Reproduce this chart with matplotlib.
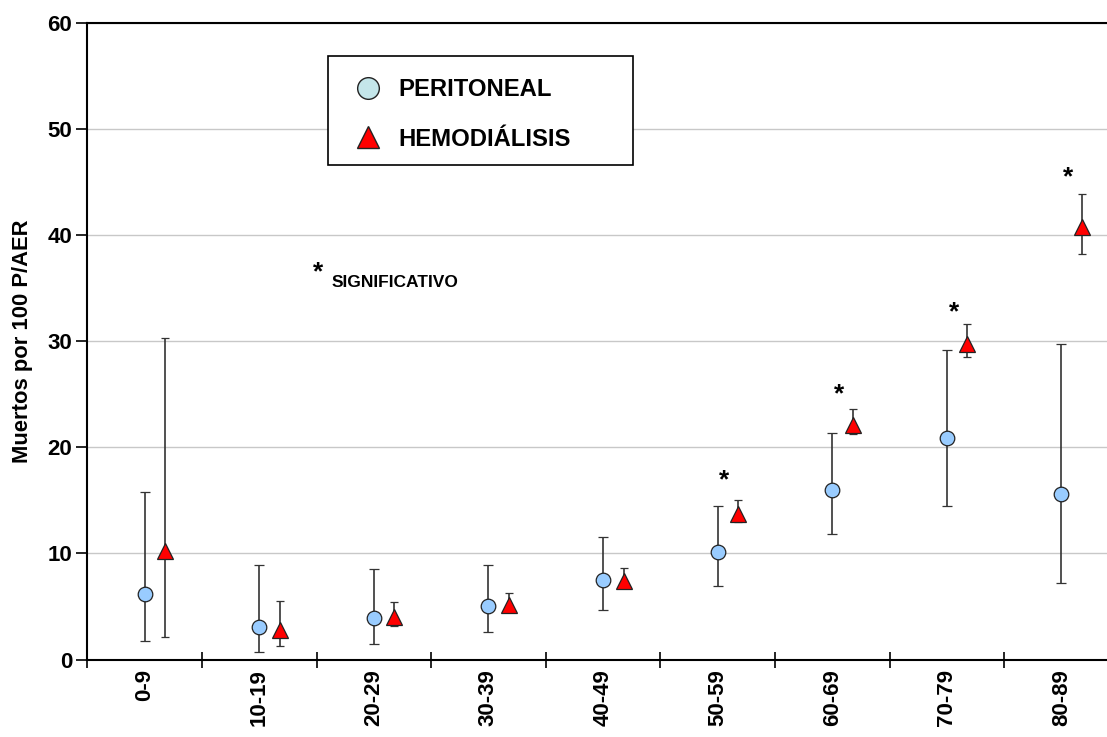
import numpy as np
import matplotlib
matplotlib.use("Agg")
import matplotlib.pyplot as plt
from matplotlib.lines import Line2D
from matplotlib.patches import Rectangle

plt.rcParams['font.family'] = ['Liberation Sans', 'DejaVu Sans']
plt.rcParams['font.weight'] = 'bold'

groups = ['0-9', '10-19', '20-29', '30-39', '40-49', '50-59', '60-69', '70-79', '80-89']

perit = [6.2, 3.1, 3.9, 5.0, 7.5, 10.15, 16.0, 20.9, 15.6]
perit_lo = [1.7, 0.75, 1.45, 2.55, 4.7, 6.9, 11.8, 14.5, 7.25]
perit_hi = [15.8, 8.9, 8.5, 8.9, 11.6, 14.5, 21.4, 29.2, 29.8]

hemo = [10.25, 2.75, 4.05, 5.1, 7.4, 13.7, 22.1, 29.8, 40.8]
hemo_lo = [2.15, 1.3, 3.2, 4.9, 6.75, 12.95, 21.3, 28.5, 38.2]
hemo_hi = [30.3, 5.55, 5.4, 6.25, 8.65, 15.0, 23.6, 31.6, 43.9]

# groups with significant difference and height of the asterisk
sig_groups = ['50-59', '60-69', '70-79', '80-89']
sig_y = [16.9, 25.0, 32.7, 45.5]

W, H = 1107, 737
fig = plt.figure(figsize=(W / 100, H / 100), dpi=100)
ax = fig.add_axes([87.3 / W, 77.5 / H, 1031.4 / W, 636.2 / H])

x = np.arange(len(groups))
p = np.array(perit)
h = np.array(hemo)
p_err = [p - np.array(perit_lo), np.array(perit_hi) - p]
h_err = [h - np.array(hemo_lo), np.array(hemo_hi) - h]

ax.errorbar(x, p, yerr=p_err, fmt='o', color='#333333', ecolor='#333333',
            elinewidth=1.2, capsize=3.8, capthick=2, markersize=10.5,
            markerfacecolor='#99ccff', markeredgecolor='#222222', markeredgewidth=0.9, zorder=3)
ax.errorbar(x + 0.18, h, yerr=h_err, fmt='^', color='#333333', ecolor='#333333',
            elinewidth=1.2, capsize=3.0, capthick=2, markersize=11.5,
            markerfacecolor='#ff0000', markeredgecolor='#222222', markeredgewidth=0.9, zorder=3)

for g, yy in zip(sig_groups, sig_y):
    ax.text(groups.index(g) + 0.06, yy, '*', fontsize=19, fontweight='bold',
            ha='center', va='center')

ax.set_xlim(-0.5, len(groups) - 0.5)
ax.set_ylim(0, 60)
ax.set_yticks(range(0, 61, 10))
ax.set_xticks(x)
ax.set_xticklabels(groups, rotation=90, fontsize=16, fontweight='bold')
ax.set_xticks(np.arange(-0.5, len(groups), 1), minor=True)
ax.tick_params(axis='x', which='major', length=0, pad=7)
ax.tick_params(axis='x', which='minor', direction='inout', length=12, width=1.2)
ax.tick_params(axis='y', direction='out', length=8, width=1.2, labelsize=16, pad=3)
for lab in ax.get_yticklabels():
    lab.set_fontweight('bold')
ax.yaxis.grid(True, color='#c8c8c8', linewidth=1)
ax.set_axisbelow(True)
for s in ax.spines.values():
    s.set_linewidth(1.5)
ax.set_ylabel('Muertos por 100 P/AER', fontsize=15.8, fontweight='bold', labelpad=10)

fig.text(318 / W, 1 - 272 / H, '*', fontsize=19, fontweight='bold', ha='center', va='center')
fig.text(332 / W, 1 - 283 / H, 'SIGNIFICATIVO', fontsize=12.5, fontweight='bold',
         ha='left', va='center')

# legend box drawn separately so the rows can sit like in the original
fig.patches.append(Rectangle((328 / W, 1 - 165 / H), 305 / W, 109 / H,
                             transform=fig.transFigure, facecolor='white',
                             edgecolor='black', linewidth=1.2, zorder=5))
handles = [
    Line2D([], [], marker='o', linestyle='none', markersize=15.6, markerfacecolor='#c4e6ea',
           markeredgecolor='#222222', markeredgewidth=1),
    Line2D([], [], marker='^', linestyle='none', markersize=15.8, markerfacecolor='#ff0000',
           markeredgecolor='#222222', markeredgewidth=1),
]
leg = fig.legend(handles, ['PERITONEAL', 'HEMODIÁLISIS'], loc='center left',
                 bbox_to_anchor=(352 / W, 1 - 114.5 / H),
                 prop={'size': 17.2, 'weight': 'bold'}, frameon=False,
                 borderpad=0, labelspacing=1.1, handlelength=1.3, handletextpad=0.63,
                 borderaxespad=0)
leg.set_zorder(6)

fig.savefig('out.png', dpi=100)
